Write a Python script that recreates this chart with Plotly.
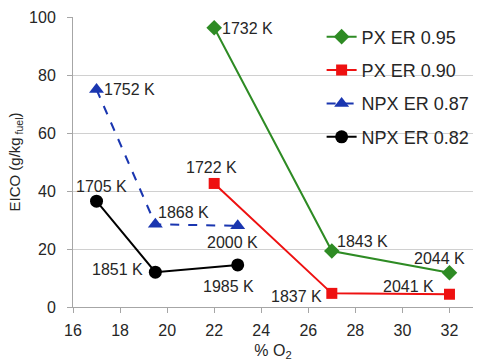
import plotly.graph_objects as go

# Oxygen concentration (%) and EICO (g/kg fuel) for each flame configuration
px095_o2 = [22, 27, 32]
px095_eico = [96.3, 19.3, 11.8]
px095_temp = ["1732 K", "1843 K", "2044 K"]

px090_o2 = [22, 27, 32]
px090_eico = [42.6, 4.7, 4.4]
px090_temp = ["1722 K", "1837 K", "2041 K"]

npx087_o2 = [17, 19.5, 23]
npx087_eico = [75.0, 28.5, 28.0]
npx087_temp = ["1752 K", "1868 K", "2000 K"]

npx082_o2 = [17, 19.5, 23]
npx082_eico = [36.5, 12.0, 14.5]
npx082_temp = ["1705 K", "1851 K", "1985 K"]

x_ticks = [16, 18, 20, 22, 24, 26, 28, 30, 32]
y_ticks = [0, 20, 40, 60, 80, 100]

FONT = "Liberation Sans"
TXT = "#262626"

series = [
    dict(name="PX ER 0.95", x=px095_o2, y=px095_eico, t=px095_temp,
         color="#2e8b24", symbol="diamond", size=12, dash="solid",
         # (xanchor, xshift, yshift) for each temperature label
         lab=[("left", 6, -1), ("left", 3, 10), ("center", -10, 14)]),
    dict(name="PX ER 0.90", x=px090_o2, y=px090_eico, t=px090_temp,
         color="#ee1111", symbol="square", size=11, dash="solid",
         lab=[("center", -3, 16), ("right", -8, -3), ("right", -13, 8)]),
    dict(name="NPX ER 0.87", x=npx087_o2, y=npx087_eico, t=npx087_temp,
         color="#1a36b0", symbol="triangle-up", size=13, dash="dash",
         lab=[("left", 5, 0), ("left", 1, 12), ("center", -5, -17)]),
    dict(name="NPX ER 0.82", x=npx082_o2, y=npx082_eico, t=npx082_temp,
         color="#000000", symbol="circle", size=13, dash="solid",
         lab=[("center", 5, 15), ("right", -10, 3), ("center", -9, -22)]),
]

fig = go.Figure()
annotations = []
for i, s in enumerate(series):
    fig.add_trace(go.Scatter(
        x=s["x"], y=s["y"], name=s["name"], mode="lines+markers",
        legendgroup=str(i),
        line=dict(color=s["color"], width=2, dash=s["dash"]),
        marker=dict(color=s["color"], symbol=s["symbol"], size=s["size"]),
    ))
    for xv, yv, tv, (xa, xs, ys) in zip(s["x"], s["y"], s["t"], s["lab"]):
        annotations.append(dict(
            x=xv, y=yv, text=tv, showarrow=False, xanchor=xa, yanchor="middle",
            xshift=xs, yshift=ys, font=dict(family=FONT, size=16, color=TXT),
        ))

fig.update_layout(
    width=478, height=363,
    margin=dict(l=73, r=4, t=17, b=56),
    paper_bgcolor="white", plot_bgcolor="white",
    font=dict(family=FONT, size=16, color=TXT),
    annotations=annotations,
    showlegend=True,
    legend=dict(
        x=0.62, xanchor="left", y=0.995, yanchor="top",
        bgcolor="rgba(0,0,0,0)", font=dict(family=FONT, size=18, color=TXT),
        traceorder="grouped", tracegroupgap=7, itemwidth=30,
    ),
    xaxis=dict(
        range=[16, 33], tickvals=x_ticks, showgrid=False,
        showline=True, linecolor="#a6a6a6", linewidth=1,
        ticks="outside", ticklen=5, tickcolor="#a6a6a6", ticklabelstandoff=4,
        tickfont=dict(size=16),
        title=dict(text="% O<sub>2</sub>", font=dict(size=16), standoff=6),
        zeroline=False,
    ),
    yaxis=dict(
        range=[0, 100], tickvals=y_ticks, showgrid=True, gridcolor="#d0d0d0",
        showline=True, linecolor="#a6a6a6", linewidth=1,
        ticks="outside", ticklen=5, tickcolor="#a6a6a6", ticklabelstandoff=8,
        tickfont=dict(size=16),
        title=dict(text="EICO (g/kg<sub> fuel</sub>)", font=dict(size=15), standoff=4),
        zeroline=False,
    ),
)

fig.write_html("out.html")
